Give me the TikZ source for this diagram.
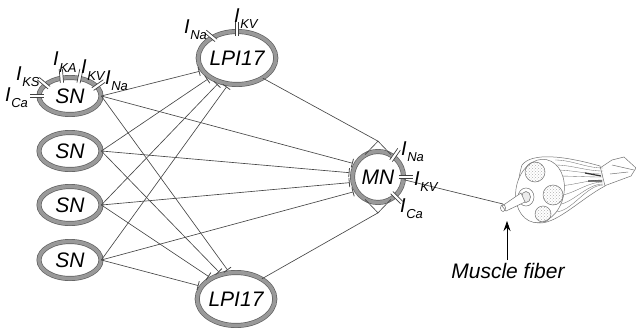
\documentclass[tikz,border=0pt]{standalone}
\usepackage{fontspec}
\setmainfont{Liberation Sans}
\usetikzlibrary{shapes.geometric,arrows.meta,patterns}

\tikzset{
  cell/.style={ellipse,draw=black!62,double=black!40,double distance=3.6pt,line width=0.7pt,
    fill=white,inner sep=0pt,font=\fontsize{21}{21}\selectfont\itshape},
  sncell/.style={cell,minimum width=62pt,minimum height=37pt},
  lpicell/.style={cell,minimum width=64pt,minimum height=53pt},
  mncell/.style={cell,minimum width=51pt,minimum height=51pt},
  wire/.style={draw=black!72,line width=0.65pt},
  syn/.style={wire,shorten >=3pt,-{Bar[width=9pt,line width=0.8pt]}},
  gatebar/.style={draw=black!75,line width=0.7pt},
  curlbl/.style={inner sep=0pt,anchor=base west,font=\fontsize{20}{20}\selectfont\itshape},
  muscle/.style={draw=black!55,line width=0.5pt},
  fascicle/.style={muscle,pattern=crosshatch dots,pattern color=black!30},
}
% ionic current label and channel mark on a ring
\newcommand\cur[1]{I\kern0.5pt\raisebox{-6pt}{\fontsize{13}{13}\selectfont #1}}
\newcommand\gate[2]{%
  \fill[white,shift={(#1)},rotate=#2] (-5,-1.6) rectangle (9,1.6);
  \draw[gatebar,shift={(#1)},rotate=#2] (-5,-1.6) -- (9,-1.6) (-5,1.6) -- (9,1.6);}

\begin{document}
\begin{tikzpicture}[x=1pt,y=-1pt]
\useasboundingbox (0,0) rectangle (636,329);

% cells
\node[sncell] (sn1) at (70,96) {SN};
\node[sncell] (sn2) at (70,151) {SN};
\node[sncell] (sn3) at (70,205) {SN};
\node[sncell] (sn4) at (70,260) {SN};
\node[lpicell] (lpiA) at (237,58) {LPI17};
\node[lpicell] (lpiB) at (236,299) {LPI17};
\node[mncell] (mn) at (378,177) {MN};

% sensory to interneurons and motor neuron
\draw[syn] (sn1.east) -- (lpiA.200);
\draw[syn] (sn2.east) -- (lpiA.216);
\draw[syn] (sn3.east) -- (lpiA.234);
\draw[syn] (sn4.east) -- (lpiA.252);
\draw[syn] (sn1.east) -- (lpiB.104);
\draw[syn] (sn2.east) -- (lpiB.121);
\draw[syn] (sn3.east) -- (lpiB.140);
\draw[syn] (sn4.east) -- (lpiB.160);
\draw[syn] (sn1.east) -- (mn.150);
\draw[syn] (sn2.east) -- (mn.171);
\draw[syn] (sn3.east) -- (mn.192);
\draw[syn] (sn4.east) -- (mn.213);

% interneurons to motor neuron
\coordinate (mntop) at ([yshift=10pt]mn.north);
\coordinate (mnbot) at ([yshift=-10pt]mn.south);
\draw[wire] (lpiA.-38) -- (mntop);
\draw[wire] (mn.120) -- (mntop) -- (mn.60);
\draw[wire] (lpiB.38) -- (mnbot);
\draw[wire] (mn.240) -- (mnbot) -- (mn.300);

% motor axon
\coordinate (fiberend) at (503,204);
\draw[wire] (mn.-6) -- (fiberend);

% channels
\gate{sn1.180}{180}
\gate{sn1.155}{140}
\gate{sn1.115}{95}
\gate{sn1.62}{78}
\gate{sn1.20}{35}
\gate{lpiA.140}{140}
\gate{lpiA.90}{90}
\gate{mn.52}{55}
\gate{mn.0}{0}
\gate{mn.-48}{-45}

\node[curlbl] (snca) at (5,101) {\cur{Ca}};
\node[curlbl] (snks) at (16,80) {\cur{KS}};
\node[curlbl] (snka) at (53,66) {\cur{KA}};
\node[curlbl] (snkv) at (81,74) {\cur{KV}};
\node[curlbl] (snna) at (105,84) {\cur{Na}};
\node[curlbl] (lpina) at (184,34) {\cur{Na}};
\node[curlbl] (lpikv) at (234,23) {\cur{KV}};
\node[curlbl] (mnna) at (401,155) {\cur{Na}};
\node[curlbl] (mnkv) at (414,185) {\cur{KV}};
\node[curlbl] (mnca) at (400,212) {\cur{Ca}};

% muscle
\draw[muscle,fill=white] (600,168) -- (612,160) -- (624,157) -- (636,168) -- (631,176) -- (604,186) -- cycle;
\draw[muscle] (612,165) -- (634,170) (610,174) -- (628,172);
\draw[muscle,fill=white] (522,165) .. controls (532,152) and (565,156) .. (600,166)
  -- (605,186) .. controls (582,198) and (558,223) .. (540,223)
  .. controls (522,223) and (512,198) .. (522,165) -- cycle;
\foreach \a/\b in {160/168,165/171,170/174,176/177,186/180,196/182,205/184,212/185}
  \draw[muscle,line width=0.35pt] (555,\a) .. controls (572,\a) and (586,\b) .. (603,\b);
\draw[black!80,line width=1.2pt] (585,173) -- (601,176) (588,181) -- (602,181);
\draw[muscle,fill=white,rotate around={-12:(540,191)}] (540,191) ellipse (24 and 32);
\draw[fascicle] (535,172) circle (10);
\draw[fascicle] (553,195) circle (10);
\draw[fascicle] (543,214) circle (8);
\draw[muscle,fill=white] (526,197) ellipse (8 and 9);
\draw[muscle,fill=black!8] (526,197) ellipse (4.5 and 5.5);
\draw[muscle,fill=white] (502,206) -- (521,193) -- (525,202) -- (506,211) -- cycle;
\draw[muscle] (503,208) ellipse (2.5 and 3.5);

\coordinate (fibertip) at (507,221);
\node[inner sep=1pt,font=\fontsize{21}{21}\selectfont\itshape] (fiberlbl) at (508,271) {Muscle fiber};
\draw[black,line width=0.8pt,-{Stealth[length=10pt,width=7pt]}] (fiberlbl.north -| fibertip) ++(0,-2) -- (fibertip);
\end{tikzpicture}
\end{document}
